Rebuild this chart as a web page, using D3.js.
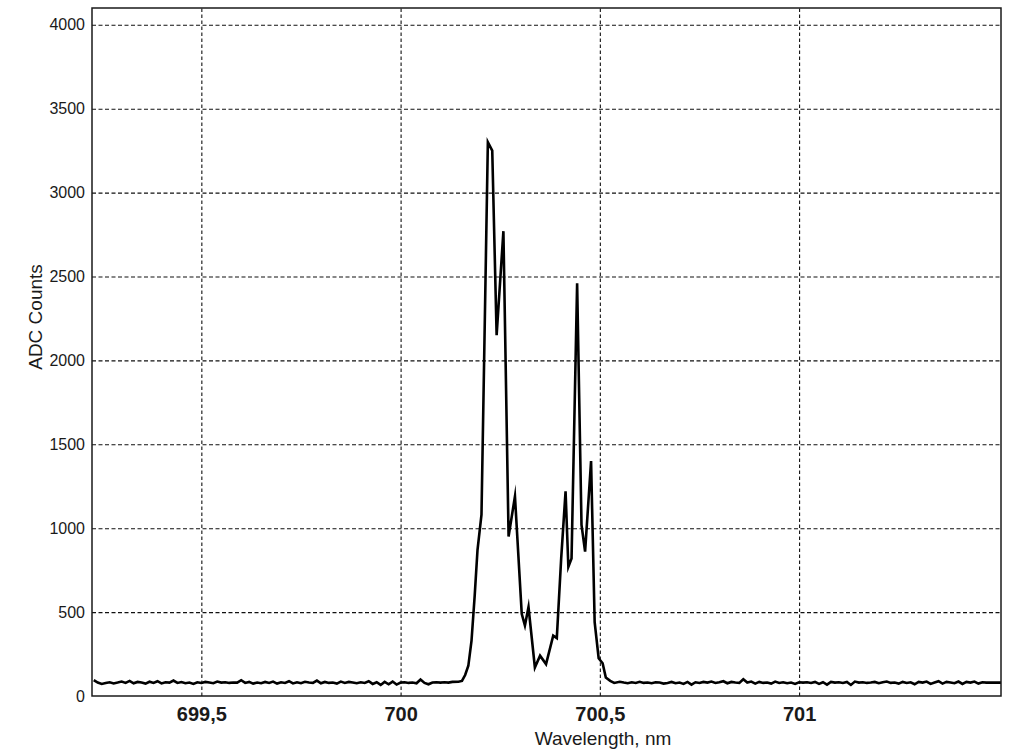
<!DOCTYPE html>
<html>
<head>
<meta charset="utf-8">
<script src="https://cdn.jsdelivr.net/npm/d3@7"></script>
<style>
  html, body { margin: 0; padding: 0; background: #fff; }
  svg { display: block; font-family: "Liberation Sans", Arial, sans-serif; }
</style>
</head>
<body>
<svg id="chart" width="1024" height="752"></svg>
<script>
// ---- data ----
const wavelengthLeft = [699.23,699.24,699.25,699.26,699.27,699.28,699.29,699.30,699.31,699.32,699.33,699.34,699.35,699.36,699.37,699.38,699.39,699.40,699.41,699.42,699.43,699.44,699.45,699.46,699.47,699.48,699.49,699.50,699.51,699.52,699.53,699.54,699.55,699.56,699.57,699.58,699.59,699.60,699.61,699.62,699.63,699.64,699.65,699.66,699.67,699.68,699.69,699.70,699.71,699.72,699.73,699.74,699.75,699.76,699.77,699.78,699.79,699.80,699.81,699.82,699.83,699.84,699.85,699.86,699.87,699.88,699.89,699.90,699.91,699.92,699.93,699.94,699.95,699.96,699.97,699.98,699.99,700.00,700.01,700.02,700.03,700.04,700.05,700.06,700.07,700.08,700.09,700.10,700.11,700.12,700.13];
const countsLeft = [95,80,72,78,82,75,80,86,78,90,76,84,80,74,85,78,88,75,82,80,92,78,83,76,80,72,82,78,84,80,76,86,80,82,78,80,80,94,78,84,74,80,76,84,78,86,74,82,78,88,75,82,76,85,80,78,92,76,84,78,80,74,86,78,84,80,76,82,78,88,72,82,66,84,70,86,68,80,82,78,80,76,98,78,70,80,82,80,82,80,84];

const wavelengthPeak = [700.145,700.154,700.162,700.170,700.178,700.186,700.193,700.203,700.219,700.230,700.241,700.258,700.271,700.287,700.304,700.312,700.321,700.337,700.350,700.365,700.383,700.392,700.403,700.414,700.421,700.429,700.443,700.454,700.463,700.478,700.487,700.497,700.507,700.515,700.526,700.536];
const countsPeak = [85,90,125,180,330,600,870,1080,3300,3250,2150,2770,950,1190,490,420,530,170,240,190,360,345,820,1220,770,820,2460,1020,860,1400,440,225,195,110,90,78];

const wavelengthRight = [700.55,700.56,700.57,700.58,700.59,700.60,700.61,700.62,700.63,700.64,700.65,700.66,700.67,700.68,700.69,700.70,700.71,700.72,700.73,700.74,700.75,700.76,700.77,700.78,700.79,700.80,700.81,700.82,700.83,700.84,700.85,700.86,700.87,700.88,700.89,700.90,700.91,700.92,700.93,700.94,700.95,700.96,700.97,700.98,700.99,701.00,701.01,701.02,701.03,701.04,701.05,701.06,701.07,701.08,701.09,701.10,701.11,701.12,701.13,701.14,701.15,701.16,701.17,701.18,701.19,701.20,701.21,701.22,701.23,701.24,701.25,701.26,701.27,701.28,701.29,701.30,701.31,701.32,701.33,701.34,701.35,701.36,701.37,701.38,701.39,701.40,701.41,701.42,701.43,701.44,701.45,701.46,701.47,701.48,701.49,701.50,701.51];
const countsRight = [85,80,76,82,78,85,78,80,76,82,80,74,78,84,76,80,72,84,68,82,78,84,80,86,78,82,88,76,84,80,78,100,80,86,74,84,78,80,74,86,78,82,76,80,72,82,80,82,78,84,72,82,68,84,80,82,78,84,66,86,80,82,78,80,84,76,82,86,78,80,74,84,78,82,70,84,80,86,72,80,88,74,84,80,76,86,72,84,80,86,74,82,80,80,80,80,80];

const xTickValues = [699.5, 700, 700.5, 701];
const xTickLabels = ["699,5", "700", "700,5", "701"];
const yTickValues = [0, 500, 1000, 1500, 2000, 2500, 3000, 3500, 4000];
const yTickLabels = ["0", "500", "1000", "1500", "2000", "2500", "3000", "3500", "4000"];
const xTitle = "Wavelength, nm";
const yTitle = "ADC Counts";

(function () {
// ---- build series ----
const wl = wavelengthLeft.concat(wavelengthPeak, wavelengthRight);
const ct = countsLeft.concat(countsPeak, countsRight);
const series = wl.map((w, i) => ({ x: w, y: ct[i] }));

// ---- layout ----
const pLeft = 92, pRight = 1001, pTop = 8, pBottom = 696;
const W = pRight - pLeft, H = pBottom - pTop;

const svg = d3.select("#chart");
svg.append("rect").attr("width", 1024).attr("height", 752).attr("fill", "#fff");

const x = d3.scaleLinear().domain([699.2256, 701.5067]).range([pLeft, pRight]);
const y = d3.scaleLinear().domain([0, 4100]).range([pBottom, pTop]);

// grid lines
const gx = svg.append("g").attr("transform", `translate(0,${pBottom})`)
  .call(d3.axisBottom(x).tickValues(xTickValues).tickSize(-H).tickFormat(""));
gx.select(".domain").remove();
gx.selectAll("line").attr("stroke", "#111").attr("stroke-width", 1.1).attr("stroke-dasharray", "3.5,2.5");

const gy = svg.append("g").attr("transform", `translate(${pLeft},0)`)
  .call(d3.axisLeft(y).tickValues(yTickValues.filter(v => v > 0)).tickSize(-W).tickFormat(""));
gy.select(".domain").remove();
gy.selectAll("line").attr("stroke", "#111").attr("stroke-width", 1.1).attr("stroke-dasharray", "4,2.5");

// data line
svg.append("clipPath").attr("id", "clip").append("rect")
  .attr("x", pLeft).attr("y", pTop).attr("width", W).attr("height", H);
svg.append("path")
  .datum(series)
  .attr("clip-path", "url(#clip)")
  .attr("fill", "none")
  .attr("stroke", "#000")
  .attr("stroke-width", 2.6)
  .attr("stroke-linejoin", "miter")
  .attr("stroke-miterlimit", 10)
  .attr("d", d3.line().x(d => x(d.x)).y(d => y(d.y)));

// frame
svg.append("rect").attr("x", pLeft).attr("y", pTop).attr("width", W).attr("height", H)
  .attr("fill", "none").attr("stroke", "#1a1a1a").attr("stroke-width", 1.5);

// tick labels
const ax = svg.append("g").attr("transform", `translate(0,${pBottom})`)
  .call(d3.axisBottom(x).tickValues(xTickValues).tickSize(0).tickPadding(11)
    .tickFormat((d, i) => xTickLabels[i]));
ax.select(".domain").remove();
ax.selectAll("text").attr("font-family", "'Liberation Sans', Arial, sans-serif")
  .attr("font-size", 20).attr("font-weight", "bold").attr("fill", "#1a1a1a");

const ay = svg.append("g").attr("transform", `translate(${pLeft},0)`)
  .call(d3.axisLeft(y).tickValues(yTickValues).tickSize(0).tickPadding(7)
    .tickFormat((d, i) => yTickLabels[i]));
ay.select(".domain").remove();
ay.selectAll("text").attr("font-family", "'Liberation Sans', Arial, sans-serif")
  .attr("font-size", 16).attr("fill", "#1a1a1a");

// axis titles
svg.append("text").attr("x", 603).attr("y", 745).attr("text-anchor", "middle")
  .attr("font-family", "'Liberation Sans', Arial, sans-serif")
  .attr("font-size", 19).attr("fill", "#1a1a1a").text(xTitle);
svg.append("text").attr("transform", "translate(42,317) rotate(-90)").attr("text-anchor", "middle")
  .attr("font-family", "'Liberation Sans', Arial, sans-serif")
  .attr("font-size", 19).attr("fill", "#1a1a1a").text(yTitle);
})();
</script>
</body>
</html>
